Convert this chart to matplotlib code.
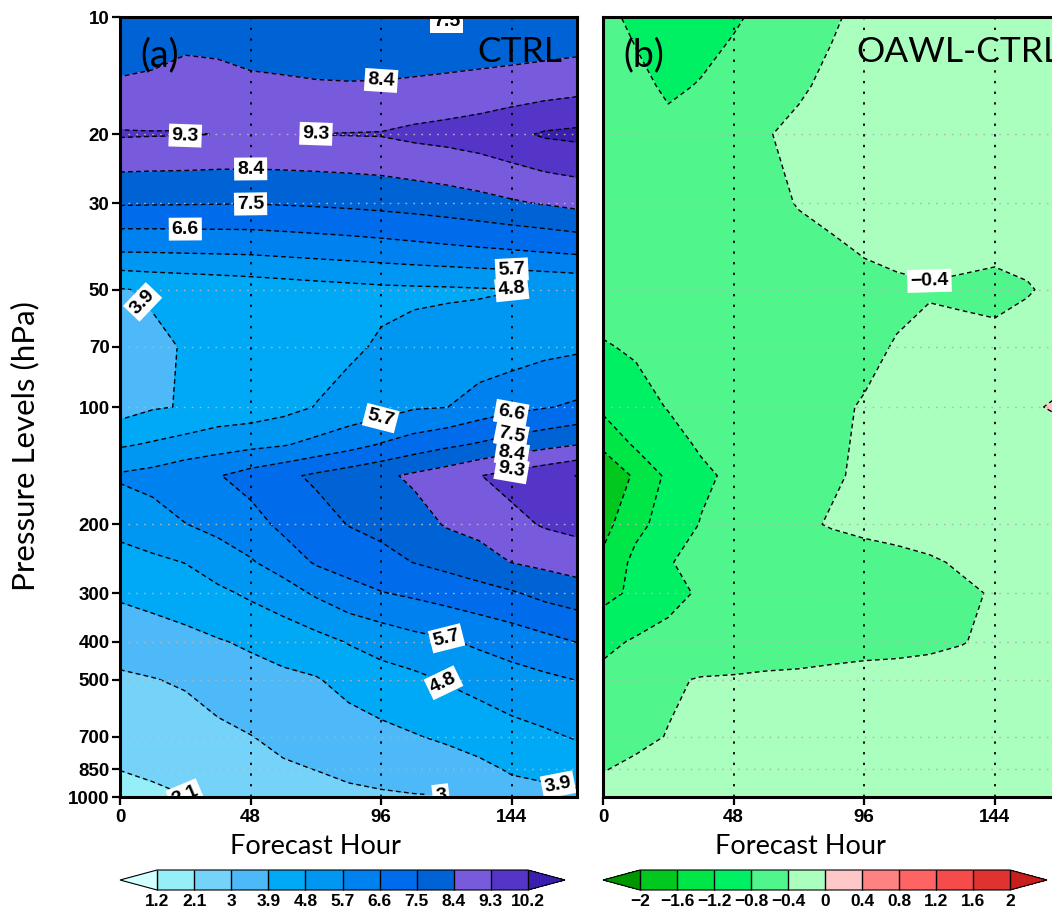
import numpy as np
import matplotlib
matplotlib.use("Agg")
import matplotlib.pyplot as plt
from matplotlib.colors import ListedColormap, BoundaryNorm

# ---------------- data ----------------
hours = [0, 12, 24, 36, 48, 60, 72, 84, 96, 108, 120, 132, 144, 156, 168]
plevs = [1000, 850, 700, 500, 400, 300, 250, 200, 150, 125, 100, 70, 50, 40, 30, 20, 15, 10]

ctrl_1000 = [1.85, 1.95, 2.08, 2.25, 2.4, 2.55, 2.7, 2.82, 2.9, 2.95, 2.98, 3.3, 3.58, 3.65, 3.73]
ctrl_850 = [2.11, 2.22, 2.4, 2.6, 2.75, 2.9, 3.01, 3.17, 3.26, 3.35, 3.49, 3.7, 3.98, 4.11, 4.27]
ctrl_700 = [2.39, 2.49, 2.6, 2.8, 2.98, 3.19, 3.31, 3.5, 3.67, 3.85, 4.03, 4.24, 4.48, 4.66, 4.87]
ctrl_500 = [2.88, 2.97, 3.1, 3.39, 3.59, 3.72, 3.84, 4.17, 4.44, 4.6, 4.87, 5.11, 5.36, 5.54, 5.72]
ctrl_400 = [3.34, 3.49, 3.65, 3.84, 4.02, 4.26, 4.5, 4.85, 5.14, 5.41, 5.6, 5.86, 6.09, 6.34, 6.62]
ctrl_300 = [4.03, 4.19, 4.37, 4.62, 4.95, 5.3, 5.82, 6.29, 6.56, 6.75, 6.97, 7.18, 7.41, 7.75, 7.97]
ctrl_250 = [4.48, 4.64, 4.82, 5.26, 5.62, 6.1, 6.69, 6.94, 7.22, 7.52, 7.75, 8.03, 8.42, 8.61, 8.82]
ctrl_200 = [5.07, 5.32, 5.68, 5.94, 6.25, 6.81, 7.13, 7.53, 7.74, 8.03, 8.47, 8.68, 9.05, 9.38, 9.54]
ctrl_150 = [5.82, 6.0, 6.3, 6.55, 6.95, 7.3, 7.65, 7.95, 8.22, 8.55, 8.85, 9.27, 9.6, 9.9, 10.22]
ctrl_125 = [4.7, 4.9, 5.13, 5.32, 5.48, 5.64, 5.94, 6.28, 6.67, 7.02, 7.34, 7.6, 7.9, 8.15, 8.39]
ctrl_100 = [3.5, 3.82, 3.95, 4.23, 4.29, 4.51, 4.83, 5.1, 5.3, 5.61, 5.68, 6.07, 6.36, 6.54, 6.74]
ctrl_70 = [3.6, 3.75, 3.95, 4.1, 4.2, 4.3, 4.4, 4.65, 4.9, 5.07, 5.17, 5.15, 5.25, 5.45, 5.55]
ctrl_50 = [3.85, 4.0, 4.09, 4.18, 4.27, 4.36, 4.45, 4.53, 4.61, 4.65, 4.68, 4.73, 4.78, 4.85, 4.92]
ctrl_40 = [5.71, 5.73, 5.76, 5.79, 5.82, 5.9, 5.98, 6.06, 6.15, 6.25, 6.35, 6.44, 6.52, 6.62, 6.73]
ctrl_30 = [7.59, 7.57, 7.56, 7.54, 7.53, 7.57, 7.62, 7.68, 7.76, 7.85, 7.97, 8.12, 8.3, 8.46, 8.64]
ctrl_20 = [9.38, 9.35, 9.33, 9.29, 9.28, 9.29, 9.31, 9.33, 9.35, 9.5, 9.6, 9.75, 10.0, 10.3, 10.4]
ctrl_15 = [8.52, 8.64, 8.96, 8.84, 8.61, 8.55, 8.48, 8.46, 8.47, 8.53, 8.62, 8.68, 8.76, 8.85, 8.98]
ctrl_10 = [7.6, 7.6, 7.7, 7.7, 7.65, 7.6, 7.6, 7.55, 7.55, 7.52, 7.42, 7.52, 7.55, 7.6, 7.6]

diff_1000 = [-0.33, -0.28, -0.26, -0.25, -0.25, -0.25, -0.25, -0.25, -0.25, -0.25, -0.25, -0.25, -0.25, -0.25, -0.25]
diff_850 = [-0.41, -0.35, -0.3, -0.28, -0.27, -0.26, -0.26, -0.26, -0.26, -0.26, -0.26, -0.26, -0.26, -0.25, -0.25]
diff_700 = [-0.52, -0.46, -0.39, -0.33, -0.3, -0.29, -0.28, -0.28, -0.27, -0.27, -0.27, -0.27, -0.26, -0.25, -0.25]
diff_500 = [-0.7, -0.55, -0.44, -0.38, -0.37, -0.35, -0.34, -0.32, -0.3, -0.3, -0.3, -0.3, -0.28, -0.25, -0.22]
diff_400 = [-0.89, -0.76, -0.7, -0.65, -0.6, -0.57, -0.55, -0.52, -0.5, -0.48, -0.45, -0.41, -0.35, -0.3, -0.25]
diff_300 = [-1.32, -1.12, -0.9, -0.76, -0.66, -0.6, -0.58, -0.56, -0.54, -0.52, -0.48, -0.44, -0.38, -0.3, -0.25]
diff_250 = [-1.51, -1.1, -0.82, -0.7, -0.62, -0.6, -0.58, -0.55, -0.52, -0.48, -0.43, -0.37, -0.3, -0.25, -0.22]
diff_200 = [-1.74, -1.3, -1.05, -0.78, -0.65, -0.52, -0.45, -0.38, -0.33, -0.3, -0.28, -0.25, -0.22, -0.2, -0.2]
diff_150 = [-2.02, -1.52, -1.12, -0.88, -0.72, -0.6, -0.52, -0.43, -0.36, -0.3, -0.25, -0.22, -0.2, -0.2, -0.2]
diff_125 = [-1.5, -1.15, -0.95, -0.75, -0.65, -0.58, -0.52, -0.45, -0.36, -0.3, -0.25, -0.2, -0.18, -0.15, -0.15]
diff_100 = [-1.12, -0.95, -0.78, -0.68, -0.62, -0.56, -0.5, -0.45, -0.38, -0.3, -0.25, -0.2, -0.15, -0.05, 0.05]
diff_70 = [-0.83, -0.75, -0.68, -0.62, -0.58, -0.55, -0.52, -0.5, -0.47, -0.38, -0.3, -0.28, -0.25, -0.22, -0.2]
diff_50 = [-0.6, -0.58, -0.56, -0.55, -0.55, -0.55, -0.54, -0.52, -0.5, -0.47, -0.43, -0.47, -0.55, -0.43, -0.3]
diff_40 = [-0.6, -0.6, -0.6, -0.6, -0.58, -0.55, -0.52, -0.46, -0.38, -0.32, -0.3, -0.3, -0.3, -0.3, -0.25]
diff_30 = [-0.6, -0.6, -0.62, -0.6, -0.58, -0.5, -0.38, -0.3, -0.26, -0.22, -0.2, -0.2, -0.2, -0.2, -0.2]
diff_20 = [-0.6, -0.62, -0.7, -0.62, -0.55, -0.42, -0.32, -0.25, -0.22, -0.2, -0.2, -0.2, -0.2, -0.2, -0.2]
diff_15 = [-0.65, -0.7, -0.86, -0.78, -0.65, -0.55, -0.45, -0.32, -0.25, -0.22, -0.2, -0.2, -0.2, -0.2, -0.2]
diff_10 = [-0.7, -0.88, -1.0, -0.95, -0.85, -0.7, -0.6, -0.45, -0.3, -0.25, -0.22, -0.2, -0.2, -0.2, -0.2]

ctrl_levels = [1.2, 2.1, 3, 3.9, 4.8, 5.7, 6.6, 7.5, 8.4, 9.3, 10.2]
diff_levels = [-2, -1.6, -1.2, -0.8, -0.4, 0, 0.4, 0.8, 1.2, 1.6, 2]

ctrl_colors = ["#D2FFFF", "#96EEF8", "#75D3FA", "#4DB9F9", "#00A9F6", "#0097F3",
               "#0081F0", "#006BEB", "#0063D5", "#785ADC", "#5534C8", "#3A1EB0"]
diff_colors = ["#009600", "#00C81E", "#00E646", "#00F064", "#50F58C", "#AAFFBE",
               "#FFC8C8", "#FF8282", "#FF6464", "#F54B4B", "#E13232", "#C81E1E"]

pressure_ticks = [10, 20, 30, 50, 70, 100, 200, 300, 400, 500, 700, 850, 1000]
grid_pressures = [20, 30, 50, 70, 100, 200, 300, 400, 500, 700, 850]
hour_ticks = [0, 48, 96, 144]
hour_grid = [48, 96, 144]

ctrl_label_pos = [(120, 10.4), (96, 14.6), (24, 20.4), (72, 19.7), (48, 24.9), (48, 30.2),
                  (24, 35.6), (144, 44.8), (144, 50.1), (11, 51.6), (96, 108), (144, 105),
                  (144, 119), (144, 131), (144, 146), (120, 393), (120, 494), (161, 935),
                  (118, 985), (24, 985)]
ctrl_label_lev = [7.5, 8.4, 9.3, 9.3, 8.4, 7.5, 6.6, 5.7, 4.8, 3.9, 5.7, 6.6, 7.5, 8.4, 9.3,
                  5.7, 4.8, 3.9, 3, 2.1]
diff_label_pos = [(120.4, 50)]
diff_label_lev = [-0.4]

ctrl = np.array([ctrl_1000, ctrl_850, ctrl_700, ctrl_500, ctrl_400, ctrl_300, ctrl_250,
                 ctrl_200, ctrl_150, ctrl_125, ctrl_100, ctrl_70, ctrl_50, ctrl_40,
                 ctrl_30, ctrl_20, ctrl_15, ctrl_10])
diff = np.array([diff_1000, diff_850, diff_700, diff_500, diff_400, diff_300, diff_250,
                 diff_200, diff_150, diff_125, diff_100, diff_70, diff_50, diff_40,
                 diff_30, diff_20, diff_15, diff_10])

# ---------------- style ----------------
plt.rcParams["font.family"] = ["Lato", "DejaVu Sans"]
plt.rcParams["lines.dashed_pattern"] = [3.4, 2.4]

W, H = 1052, 911
fig = plt.figure(figsize=(W / 100, H / 100), dpi=100)


def fx(px):
    return px / W


def fy(py):
    return 1 - py / H


ly = np.log10(plevs)
TICKFONT = dict(family=["Liberation Sans", "DejaVu Sans"], size=13.5, weight="bold")


def fmt_num(v):
    return ("%g" % v).replace("-", "\u2212")


def panel(left_px, Z, levels, colors, label_pos, label_lev, letter, title, title_x, show_y):
    ax = fig.add_axes([fx(left_px), fy(797), fx(457), 780 / H])
    cmap = ListedColormap(colors[1:-1])
    cmap.set_under(colors[0])
    cmap.set_over(colors[-1])
    norm = BoundaryNorm(levels, cmap.N)
    cf = ax.contourf(hours, ly, Z, levels=levels, cmap=cmap, norm=norm, extend="both")
    cs = ax.contour(hours, ly, Z, levels=levels, colors="k", linewidths=1.0,
                    linestyles="dashed")
    # set up label state, then place each label on the requested level
    cs.clabel(manual=[], inline=True, inline_spacing=3, fmt=fmt_num, fontsize=14)
    cs.labelLevelList = list(cs.levels)
    cs.labelCValueList = list(cs.cvalues)
    lev_list = list(cs.levels)
    for (hx, pv), lev in zip(label_pos, label_lev):
        idx = int(np.argmin(np.abs(np.array(lev_list) - lev)))
        cs.labelIndiceList = [idx]
        cs.add_label_near(hx, np.log10(pv), inline=True, inline_spacing=3)
    for t in cs.labelTexts:
        t.set_fontfamily(["Liberation Sans", "DejaVu Sans"])
        t.set_fontweight("bold")
        t.set_fontsize(14)
        t.set_bbox(dict(boxstyle="square,pad=0.15", fc="white", ec="none"))
        t.set_zorder(6)
    for p in grid_pressures:
        ax.axhline(np.log10(p), color="#b4b4b4", lw=1.0, ls=(0, (1.2, 4.5)), zorder=4)
    for h in hour_grid:
        ax.axvline(h, color="k", lw=1.3, ls=(0, (1.3, 4.6)), zorder=4)
    ax.set_xlim(0, 168)
    ax.set_ylim(3, 1)
    ax.set_xticks(hour_ticks)
    ax.set_xticklabels([str(h) for h in hour_ticks], fontdict=TICKFONT)
    if show_y:
        ax.set_yticks(np.log10(pressure_ticks))
        ax.set_yticklabels([str(p) for p in pressure_ticks], fontdict=TICKFONT)
        ax.tick_params(axis="y", direction="out", length=5.5, width=1.6, pad=2)
    else:
        ax.set_yticks([])
    ax.tick_params(axis="x", direction="out", length=5.5, width=1.6, pad=3)
    ax.tick_params(top=False, right=False)
    for s in ax.spines.values():
        s.set_linewidth(2.2)
        s.set_zorder(7)
    ax.text(0.044, 0.951, letter, transform=ax.transAxes, fontsize=27,
            ha="left", va="center", zorder=8)
    ax.text(title_x, 0.955, title, transform=ax.transAxes, fontsize=25.5,
            ha="right" if title_x > 0.9 else "left", va="center", zorder=8)
    return ax, cf


ax1, cf1 = panel(120, ctrl, ctrl_levels, ctrl_colors, ctrl_label_pos, ctrl_label_lev,
                 "(a)", "CTRL", 0.968, True)
ax2, cf2 = panel(603, diff, diff_levels, diff_colors, diff_label_pos, diff_label_lev,
                 "(b)", "OAWL-CTRL", 0.555, False)


def cbar(cf, left_px, width_px, levels):
    cax = fig.add_axes([fx(left_px), fy(890), fx(width_px), 20 / H])
    cb = fig.colorbar(cf, cax=cax, orientation="horizontal", extend="both",
                      extendfrac=0.1, drawedges=True, ticks=levels)
    cb.outline.set_linewidth(0.8)
    cb.dividers.set_linewidth(1.0)
    cb.dividers.set_color("k")
    cb.ax.tick_params(length=0, pad=3)
    cb.ax.set_xticklabels([fmt_num(v) for v in levels],
                          fontdict=dict(family=["Liberation Sans", "DejaVu Sans"],
                                        size=12.5, weight="bold"))
    return cb


cbar(cf1, 120, 445, ctrl_levels)
cbar(cf2, 603, 444, diff_levels)

fig.text(fx(25), fy(446), "Pressure Levels (hPa)", rotation=90, ha="center", va="center",
         fontsize=22.5)
fig.text(fx(315), fy(846), "Forecast Hour", ha="center", va="center", fontsize=19.5)
fig.text(fx(800), fy(846), "Forecast Hour", ha="center", va="center", fontsize=19.5)

fig.savefig("out.png", dpi=100)
